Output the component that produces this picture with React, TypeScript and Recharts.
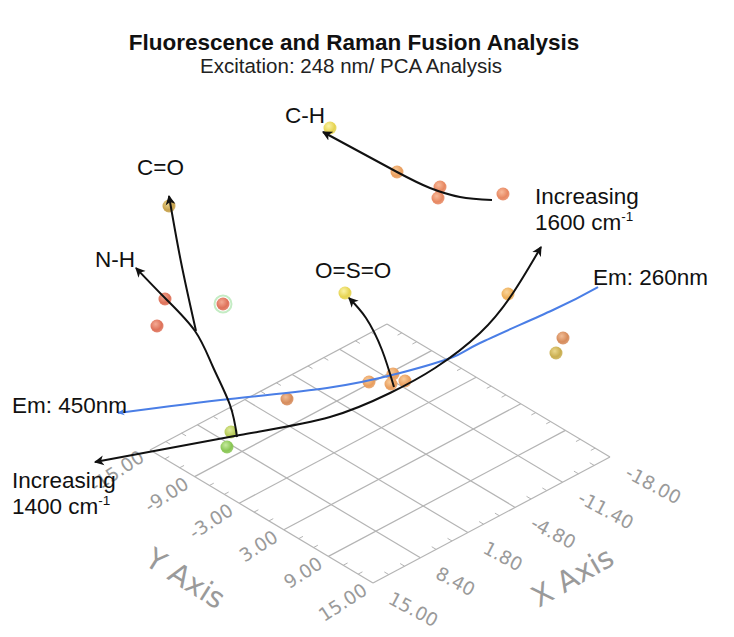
import React from 'react';
import { ScatterChart, Scatter, XAxis, YAxis, ReferenceLine } from 'recharts';

const WIDTH = 734;
const HEIGHT = 637;

// floor grid of the 3D view
const xTicks = [15, 8.4, 1.8, -4.8, -11.4, -18];
const yTicks = [-15, -9, -3, 3, 9, 15];

// PCA scores as seen on screen (u to the right, v downward)
const scoreU = [330, 169, 165, 157, 223, 345, 397, 440, 438, 503, 508, 563, 556, 369, 393, 391, 405, 287, 231, 227];
const scoreV = [128, 206, 299, 326, 304, 293, 172, 187, 198, 194, 294, 338, 353, 382, 374, 384, 381, 399, 432, 447];
const scoreTone = [
  'yellow', 'tan', 'salmon', 'salmon', 'salmon', 'yellow', 'orange', 'coral', 'coral', 'coral',
  'amber', 'rust', 'olive', 'orange', 'orange', 'orange', 'orange', 'rust', 'lime', 'green',
];
const haloIndex = [4];

// band assignment arrows
const chPath = [[492, 200], [460, 197], [430, 188], [397, 172], [323, 132]];
const coPath = [[196, 331], [181, 262], [169, 196]];
const nhPath = [[237, 437], [230, 405], [213, 367], [195, 331], [165, 298], [136, 268]];
const sosPath = [[394, 387], [382, 350], [366, 318], [349, 298]];
const rampPath = [[95, 462], [240, 435], [330, 417], [390, 393], [435, 368], [480, 333], [513, 293], [541, 247]];
const emPath = [[118, 413], [230, 399], [327, 388], [400, 373], [453, 357], [480, 343], [553, 310], [598, 287]];

const noteLabel = ['C-H', 'C=O', 'N-H', 'O=S=O', 'Em: 260nm', 'Em: 450nm'];
const noteU = [285, 137, 95, 315, 593, 12];
const noteV = [123, 175, 267, 278, 285, 413];

const rampWave = ['1600', '1400'];
const rampU = [535, 12];
const rampV = [204, 488];

const tones: Record<string, [string, string]> = {
  yellow: ['#e6d452', '#fbf3a6'],
  tan: ['#c7a24c', '#ebd38c'],
  salmon: ['#de725a', '#f4aa94'],
  coral: ['#e78862', '#f8ba9a'],
  orange: ['#e99e5e', '#f9cc9a'],
  amber: ['#edae58', '#fbd59a'],
  rust: ['#d68c5c', '#f1bd96'],
  olive: ['#c9ae50', '#ebd78c'],
  lime: ['#b5ca56', '#dfeb9e'],
  green: ['#89c654', '#c6ea9e'],
};

// screen position of a point on the floor plane
const floor = (x: number, y: number) => ({
  u: 373 + ((15 - x) / 33) * 237 - ((15 - y) / 30) * 223,
  v: 583 - ((15 - x) / 33) * 126 - ((15 - y) / 30) * 133,
});

const toPts = (path: number[][]) => path.map(([u, v]) => ({ u, v }));

const scores = scoreU.map((u, i) => ({
  u,
  v: scoreV[i],
  tone: scoreTone[i],
  halo: haloIndex.includes(i),
}));

const gridLines = [
  ...xTicks.map((x) => [floor(x, -15), floor(x, 15)]),
  ...yTicks.map((y) => [floor(15, y), floor(-18, y)]),
];

const minorTicks: { u: number; v: number }[][] = [];
for (let i = 0; i < 5; i++) {
  for (const f of [1 / 3, 2 / 3]) {
    const x = xTicks[i] + (xTicks[i + 1] - xTicks[i]) * f;
    const y = yTicks[i] + (yTicks[i + 1] - yTicks[i]) * f;
    minorTicks.push([floor(15, y), floor(14.4, y)]);
    minorTicks.push([floor(-18, y), floor(-17.4, y)]);
    minorTicks.push([floor(x, -15), floor(x, -14.4)]);
    minorTicks.push([floor(x, 15), floor(x, 14.4)]);
  }
}

const xLabels = xTicks.map((x) => ({ ...floor(x, 15), text: x.toFixed(2) }));
const yLabels = yTicks.map((y) => ({ ...floor(15, y), text: y.toFixed(2) }));
const axisTitles = [
  { ...floor(15, 0), text: 'Y Axis', dx: -76, dy: 62, rot: 32 },
  { ...floor(-1.5, 15), text: 'X Axis', dx: 81, dy: 57, rot: -30 },
];

const notes = noteLabel.map((text, i) => ({ u: noteU[i], v: noteV[i], text }));
const ramps = rampWave.map((w, i) => ({ u: rampU[i], v: rampV[i], text: w }));

const Nothing = () => <g />;

const Ball = (props: any) => {
  const { cx, cy, payload } = props;
  return (
    <g>
      {payload.halo && <circle cx={cx} cy={cy} r={8.5} fill="none" stroke="#c4ecc4" strokeWidth={2} />}
      <circle cx={cx} cy={cy} r={6.5} fill={`url(#ball-${payload.tone})`} />
    </g>
  );
};

const XTickText = (props: any) => {
  const { cx, cy, payload } = props;
  const x = cx + 17;
  const y = cy + 14;
  return (
    <text x={x} y={y} transform={`rotate(28 ${x} ${y})`} textAnchor="start" dominantBaseline="central"
      fontFamily="DejaVu Sans, sans-serif" fontSize={18.5} fill="#9a9a9a">
      {payload.text}
    </text>
  );
};

const YTickText = (props: any) => {
  const { cx, cy, payload } = props;
  const x = cx - 8;
  const y = cy + 5;
  return (
    <text x={x} y={y} transform={`rotate(-33 ${x} ${y})`} textAnchor="end" dominantBaseline="central"
      fontFamily="DejaVu Sans, sans-serif" fontSize={18.5} fill="#9a9a9a">
      {payload.text}
    </text>
  );
};

const AxisTitle = (props: any) => {
  const { cx, cy, payload } = props;
  const x = cx + payload.dx;
  const y = cy + payload.dy;
  return (
    <text x={x} y={y} transform={`rotate(${payload.rot} ${x} ${y})`} textAnchor="middle" dominantBaseline="central"
      fontFamily="DejaVu Sans, sans-serif" fontSize={29} fill="#9a9a9a">
      {payload.text}
    </text>
  );
};

const Note = (props: any) => {
  const { cx, cy, payload } = props;
  return (
    <text x={cx} y={cy} fontFamily="Liberation Sans, Arial, sans-serif" fontSize={22.5} fill="#111">
      {payload.text}
    </text>
  );
};

const Ramp = (props: any) => {
  const { cx, cy, payload } = props;
  return (
    <text x={cx} y={cy} fontFamily="Liberation Sans, Arial, sans-serif" fontSize={22.5} fill="#111">
      <tspan x={cx} y={cy}>Increasing</tspan>
      <tspan x={cx} y={cy + 26}>{payload.text} cm</tspan>
      <tspan dy={-9} fontSize={13.5}>-1</tspan>
    </text>
  );
};

const arrowLine = (markerEnd: string, markerStart?: string) => ({
  stroke: '#111',
  strokeWidth: 2,
  fill: 'none',
  markerEnd,
  ...(markerStart ? { markerStart } : {}),
});

export default function App() {
  return (
    <div style={{ position: 'absolute', left: 0, top: 0, width: WIDTH, height: HEIGHT, background: '#fff' }}>
      <svg width={0} height={0} style={{ position: 'absolute' }}>
        <defs>
          {Object.entries(tones).map(([name, [base, light]]) => (
            <radialGradient key={name} id={`ball-${name}`} cx="40%" cy="35%" r="65%">
              <stop offset="0%" stopColor={light} />
              <stop offset="70%" stopColor={base} />
              <stop offset="100%" stopColor={base} stopOpacity={0.85} />
            </radialGradient>
          ))}
          <marker id="head" viewBox="0 0 10 10" refX={8} refY={5} markerWidth={5.5} markerHeight={5.5}
            orient="auto-start-reverse">
            <path d="M0,0.5 L9,5 L0,9.5 L2.5,5 z" fill="#111" />
          </marker>
          <marker id="blueHead" viewBox="0 0 10 10" refX={8} refY={5} markerWidth={4} markerHeight={4}
            orient="auto-start-reverse">
            <path d="M0,1 L9,5 L0,9 L2.5,5 z" fill="#4a7ee6" />
          </marker>
        </defs>
      </svg>
      <ScatterChart width={WIDTH} height={HEIGHT} margin={{ top: 0, right: 0, bottom: 0, left: 0 }}>
        <XAxis hide type="number" dataKey="u" domain={[0, WIDTH]} allowDataOverflow />
        <YAxis hide type="number" dataKey="v" domain={[0, HEIGHT]} reversed allowDataOverflow />
        {gridLines.map(([a, b], i) => (
          <ReferenceLine key={`g${i}`} segment={[{ x: a.u, y: a.v }, { x: b.u, y: b.v }]}
            stroke="#b4b4b4" strokeWidth={1.2} />
        ))}
        {minorTicks.map(([a, b], i) => (
          <ReferenceLine key={`t${i}`} segment={[{ x: a.u, y: a.v }, { x: b.u, y: b.v }]}
            stroke="#b4b4b4" strokeWidth={1} />
        ))}
        <Scatter data={xLabels} shape={XTickText} isAnimationActive={false} />
        <Scatter data={yLabels} shape={YTickText} isAnimationActive={false} />
        <Scatter data={axisTitles} shape={AxisTitle} isAnimationActive={false} />
        <Scatter data={scores} shape={Ball} isAnimationActive={false} />
        <Scatter data={toPts(emPath)} shape={Nothing} lineJointType="natural" isAnimationActive={false}
          line={{ stroke: '#4a7ee6', strokeWidth: 2, fill: 'none', markerStart: 'url(#blueHead)' }} />
        <Scatter data={toPts(chPath)} shape={Nothing} lineJointType="natural" isAnimationActive={false}
          line={arrowLine('url(#head)')} />
        <Scatter data={toPts(coPath)} shape={Nothing} lineJointType="natural" isAnimationActive={false}
          line={arrowLine('url(#head)')} />
        <Scatter data={toPts(nhPath)} shape={Nothing} lineJointType="natural" isAnimationActive={false}
          line={arrowLine('url(#head)')} />
        <Scatter data={toPts(sosPath)} shape={Nothing} lineJointType="natural" isAnimationActive={false}
          line={arrowLine('url(#head)')} />
        <Scatter data={toPts(rampPath)} shape={Nothing} lineJointType="natural" isAnimationActive={false}
          line={arrowLine('url(#head)', 'url(#head)')} />
        <Scatter data={notes} shape={Note} isAnimationActive={false} />
        <Scatter data={ramps} shape={Ramp} isAnimationActive={false} />
      </ScatterChart>
      <svg width={WIDTH} height={90} style={{ position: 'absolute', left: 0, top: 0, pointerEvents: 'none' }}>
        <text x={354} y={50} textAnchor="middle" fontFamily="Liberation Sans, Arial, sans-serif"
          fontWeight="bold" fontSize={22.5} fill="#111">
          Fluorescence and Raman Fusion Analysis
        </text>
        <text x={351} y={73} textAnchor="middle" fontFamily="Liberation Sans, Arial, sans-serif"
          fontSize={20.5} fill="#222">
          Excitation: 248 nm/ PCA Analysis
        </text>
      </svg>
    </div>
  );
}
